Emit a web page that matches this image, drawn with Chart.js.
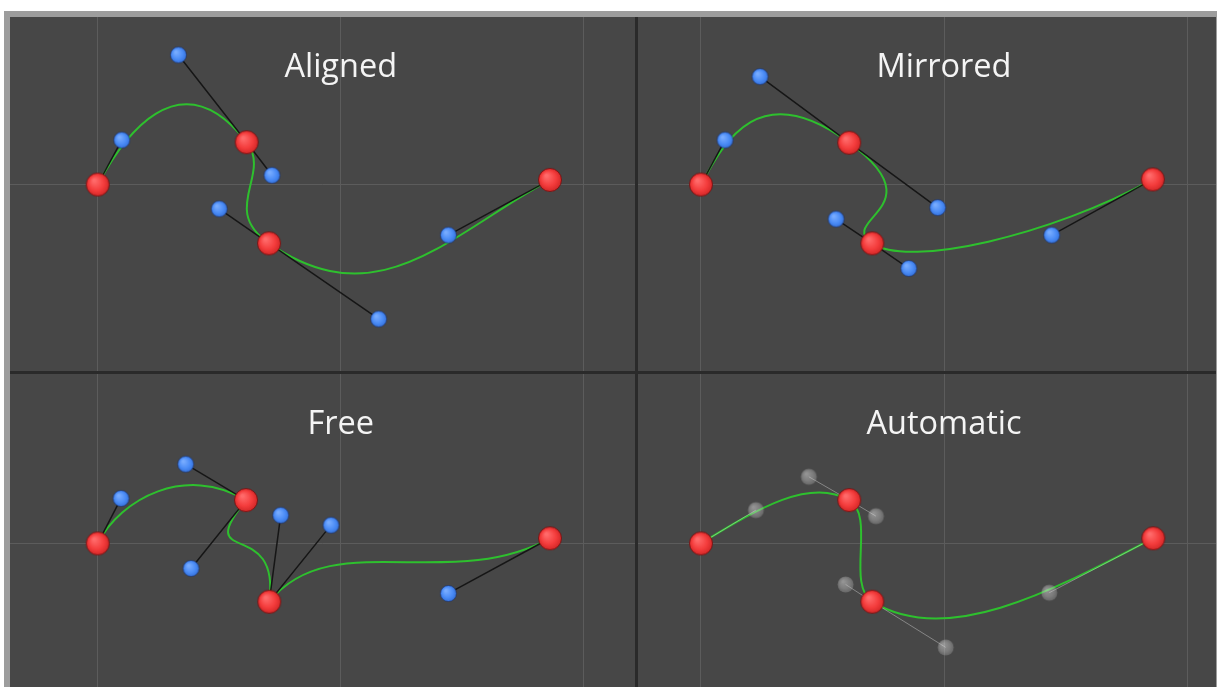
<!DOCTYPE html>
<html>
<head>
<meta charset="utf-8">
<title>Bezier handle types</title>
<script src="https://cdn.jsdelivr.net/npm/chart.js@4/dist/chart.umd.min.js"></script>
<style>
  html, body { margin: 0; padding: 0; background: #fff; }
  #frame {
    position: absolute; left: 4px; top: 11px;
    width: 1206px; height: 670px;
    background: #2a2a2a;
    border-top: 6px solid #9d9d9d;
    border-left: 6px solid #9d9d9d;
    border-right: 1px solid #9d9d9d;
  }
  .panel { position: absolute; background: #474747; }
  #p0 { left: 0; top: 0; width: 625px; height: 354px; }
  #p1 { left: 628px; top: 0; width: 578px; height: 354px; }
  #p2 { left: 0; top: 357px; width: 625px; height: 313px; }
  #p3 { left: 628px; top: 357px; width: 578px; height: 313px; }
</style>
</head>
<body>
<div id="frame">
  <div class="panel" id="p0"><canvas id="c0"></canvas></div>
  <div class="panel" id="p1"><canvas id="c1"></canvas></div>
  <div class="panel" id="p2"><canvas id="c2"></canvas></div>
  <div class="panel" id="p3"><canvas id="c3"></canvas></div>
</div>
<script>
// values in grid units (1 = one grid cell), origin at the first anchor
const panelTitles = ['Aligned', 'Mirrored', 'Free', 'Automatic'];
const gridTicksX = [0, 1, 2];
const gridTicksY = [0];

const alignedAnchors = [[0, 0], [0.613, 0.174], [0.705, -0.242], [1.861, 0.019]];
const alignedIn = [null, [0.332, 0.533], [0.500, -0.100], [1.443, -0.208]];
const alignedOut = [[0.099, 0.183], [0.717, 0.038], [1.156, -0.553], null];

const mirroredAnchors = [[0, 0], [0.610, 0.172], [0.705, -0.242], [1.859, 0.021]];
const mirroredIn = [null, [0.243, 0.444], [0.556, -0.142], [1.443, -0.208]];
const mirroredOut = [[0.099, 0.183], [0.974, -0.095], [0.855, -0.345], null];

const freeAnchors = [[0, 0], [0.610, 0.178], [0.706, -0.240], [1.861, 0.021]];
const freeIn = [null, [0.362, 0.326], [0.753, 0.116], [1.443, -0.206]];
const freeOut = [[0.096, 0.185], [0.384, -0.103], [0.960, 0.075], null];

const autoAnchors = [[0, 0], [0.610, 0.178], [0.705, -0.240], [1.861, 0.021]];
const autoIn = [null, [0.444, 0.274], [0.595, -0.169], [1.433, -0.203]];
const autoOut = [[0.226, 0.137], [0.720, 0.112], [1.007, -0.428], null];

// little sphere sprites for the points
function makeSphere(r, c0, c1, c2, edge) {
  const s = document.createElement('canvas');
  const size = Math.ceil(r * 2 + 2);
  s.width = s.height = size;
  const g = s.getContext('2d');
  const m = size / 2;
  const grad = g.createRadialGradient(m - r * 0.3, m - r * 0.35, r * 0.1, m, m, r);
  grad.addColorStop(0, c0);
  grad.addColorStop(0.6, c1);
  grad.addColorStop(1, c2);
  g.beginPath();
  g.arc(m, m, r - 0.5, 0, Math.PI * 2);
  g.fillStyle = grad;
  g.fill();
  if (edge) {
    g.lineWidth = 1;
    g.strokeStyle = edge;
    g.stroke();
  }
  return s;
}
const redSphere = makeSphere(12, '#ff6a6a', '#f43c3c', '#d02626', 'rgba(110,15,15,0.8)');
const blueSphere = makeSphere(8.5, '#78acff', '#4b8cf6', '#3370da', 'rgba(25,45,100,0.6)');
const greySphere = makeSphere(8.5, 'rgba(225,225,225,0.5)', 'rgba(200,200,200,0.42)', 'rgba(175,175,175,0.3)', null);

// put the curve's bezier control points on the handles
const bezierHandles = {
  id: 'bezierHandles',
  beforeDatasetDraw(chart, args) {
    const ds = chart.data.datasets[args.index];
    if (!ds.handlesOut) return;
    const xs = chart.scales.x, ys = chart.scales.y;
    args.meta.dataset.updateControlPoints(chart.chartArea, 'x');
    args.meta.data.forEach((p, i) => {
      const a = [ds.data[i].x, ds.data[i].y];
      const hi = ds.handlesIn[i] || a;
      const ho = ds.handlesOut[i] || a;
      p.cp1x = xs.getPixelForValue(hi[0]);
      p.cp1y = ys.getPixelForValue(hi[1]);
      p.cp2x = xs.getPixelForValue(ho[0]);
      p.cp2y = ys.getPixelForValue(ho[1]);
    });
  }
};

const panelTitle = {
  id: 'panelTitle',
  afterDatasetsDraw(chart, args, opts) {
    const ctx = chart.ctx;
    ctx.save();
    ctx.font = '32.5px "Open Sans"';
    ctx.fillStyle = '#f4f4f4';
    ctx.textAlign = 'center';
    ctx.textBaseline = 'alphabetic';
    ctx.fillText(opts.text, chart.scales.x.getPixelForValue(1), chart.chartArea.top + 60);
    ctx.restore();
  }
};

const pt = p => ({ x: p[0], y: p[1] });

function buildPanel(canvasId, title, anchors, hIn, hOut, auto, xRange, yRange) {
  const datasets = [];
  datasets.push({
    type: 'line',
    data: anchors.map(pt),
    handlesIn: hIn,
    handlesOut: hOut,
    borderColor: '#2ec02e',
    borderWidth: 2,
    pointRadius: 0,
    tension: 0.4,
    fill: false,
    order: 3
  });
  anchors.forEach((a, i) => {
    datasets.push({
      type: 'line',
      data: [hIn[i], a, hOut[i]].filter(Boolean).map(pt),
      borderColor: auto ? 'rgba(210,210,210,0.45)' : '#161616',
      borderWidth: auto ? 1 : 1.5,
      pointRadius: 0,
      tension: 0,
      fill: false,
      order: 2
    });
  });
  datasets.push({
    type: 'scatter',
    data: hIn.concat(hOut).filter(Boolean).map(pt),
    pointStyle: auto ? greySphere : blueSphere,
    pointRadius: 8,
    order: 1
  });
  datasets.push({
    type: 'scatter',
    data: anchors.map(pt),
    pointStyle: redSphere,
    pointRadius: 12,
    order: 0
  });

  const axis = (range, ticks) => ({
    type: 'linear',
    min: range[0],
    max: range[1],
    grid: { color: '#5c5c5c', lineWidth: 1, drawTicks: false },
    border: { display: false },
    ticks: { display: false },
    afterBuildTicks: s => { s.ticks = ticks.map(v => ({ value: v })); }
  });

  new Chart(document.getElementById(canvasId), {
    type: 'scatter',
    data: { datasets: datasets },
    options: {
      responsive: true,
      maintainAspectRatio: false,
      animation: false,
      events: [],
      layout: { padding: 0, autoPadding: false },
      scales: {
        x: axis(xRange, gridTicksX),
        y: axis(yRange, gridTicksY)
      },
      plugins: {
        legend: { display: false },
        tooltip: { enabled: false },
        panelTitle: { text: title }
      }
    },
    plugins: [bezierHandles, panelTitle]
  });
}

buildPanel('c0', panelTitles[0], alignedAnchors, alignedIn, alignedOut, false, [-0.361, 2.211], [-0.767, 0.689]);
buildPanel('c1', panelTitles[1], mirroredAnchors, mirroredIn, mirroredOut, false, [-0.259, 2.119], [-0.767, 0.689]);
buildPanel('c2', panelTitles[2], freeAnchors, freeIn, freeOut, false, [-0.361, 2.211], [-0.591, 0.697]);
buildPanel('c3', panelTitles[3], autoAnchors, autoIn, autoOut, true, [-0.259, 2.119], [-0.591, 0.697]);
</script>
</body>
</html>
